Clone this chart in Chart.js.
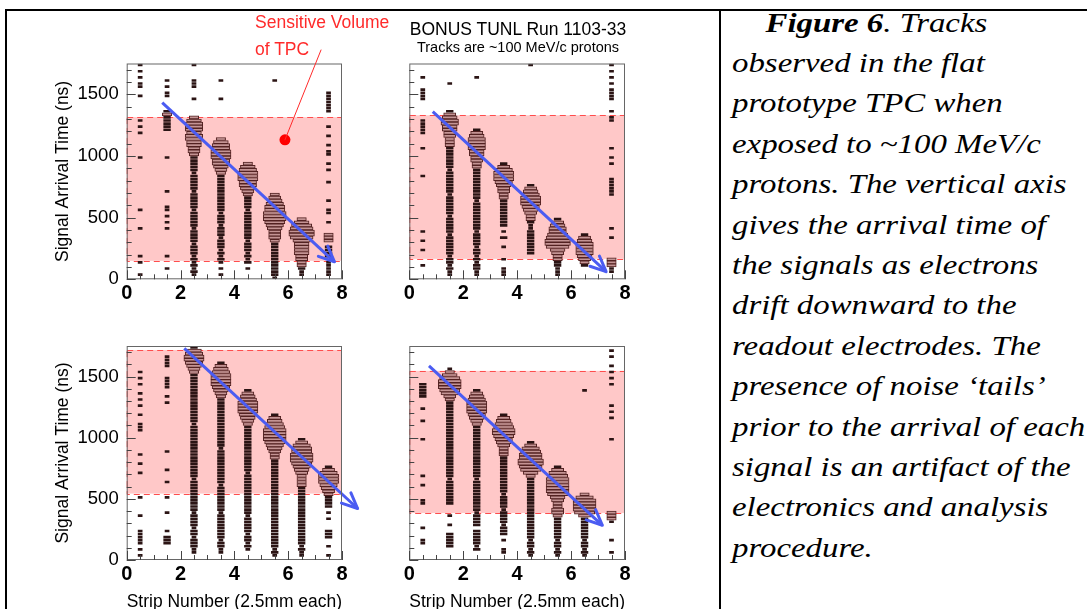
<!DOCTYPE html>
<html>
<head>
<meta charset="utf-8">
<script src="https://cdn.jsdelivr.net/npm/chart.js@4.4.1/dist/chart.umd.min.js"></script>
<style>
  body { margin: 0; width: 1087px; height: 609px; overflow: hidden; position: relative; background: #fff;
         font-family: "Liberation Sans", Arial, sans-serif; }
  canvas { position: absolute; }
  .rule { position: absolute; background: #000; }
  .note { position: absolute; white-space: nowrap; line-height: 1; }
  #caption { position: absolute; left: 732px; top: 2.6px; font-family: "Liberation Serif", "Times New Roman", serif;
             font-style: italic; font-size: 26.5px; line-height: 40.4px;
             color: #000; white-space: nowrap; transform: scaleX(1.24); transform-origin: 0 0; }
</style>
</head>
<body>
<div class="rule" style="left:5px;top:9px;width:1082px;height:2px"></div>
<div class="rule" style="left:5px;top:9px;width:2px;height:600px"></div>
<div class="rule" style="left:719px;top:9px;width:2px;height:600px"></div>

<canvas id="panelA" width="360" height="305" style="left:0;top:0"></canvas>
<canvas id="panelB" width="360" height="305" style="left:360px;top:0"></canvas>
<canvas id="panelC" width="360" height="312" style="left:0;top:300px"></canvas>
<canvas id="panelD" width="360" height="312" style="left:360px;top:300px"></canvas>

<div class="note" style="left:255px;top:14px;color:#ff2a2a;font-size:17.5px">Sensitive Volume</div>
<div class="note" style="left:255px;top:41px;color:#ff2a2a;font-size:17.5px">of TPC</div>
<div class="note" style="left:409px;top:21px;width:218px;text-align:center;font-size:17.5px">BONUS TUNL Run 1103-33</div>
<div class="note" style="left:409px;top:40px;width:218px;text-align:center;font-size:14.5px">Tracks are ~100 MeV/c protons</div>

<div id="caption">
  <div style="padding-left:27px"><b>Figure 6</b>. Tracks</div>
  <div>observed in the flat</div>
  <div>prototype TPC when</div>
  <div>exposed to ~100 MeV/c</div>
  <div>protons. The vertical axis</div>
  <div>gives the arrival time of</div>
  <div>the signals as electrons</div>
  <div>drift downward to the</div>
  <div>readout electrodes. The</div>
  <div>presence of noise ‘tails’</div>
  <div>prior to the arrival of each</div>
  <div>signal is an artifact of the</div>
  <div>electronics and analysis</div>
  <div>procedure.</div>
</div>

<script>
// strip centres, time binning
const strips = [0.5, 1.5, 2.5, 3.5, 4.5, 5.5, 6.5, 7.5];
const binNs = 25;
const timeMax = 1750;
const xTickLabels = [0, 2, 4, 6, 8];
const yTickLabels = [0, 500, 1000, 1500];

// one string per strip, top bin (1725-1750 ns) first, one digit per 25 ns bin = box width code
const panelACols = [
  "1010101100 1000000010 1010000000 1000000000 0000000100 0001000000 0010100010",
  "0000010101 1000023222 2200000000 1000000000 0100001101 0101000000 0010001000",
  "1000011100 0100000356 6656655443 2222212222 2122222122 2221222212 2212121210",
  "0000010000 0100000000 0000356677 7665432222 2222222212 2212221222 1212101010",
  "0000000000 0000000000 0000000000 0035677766 5432222122 2222222122 2121201000",
  "0000010000 0000000000 0000000000 0000000000 0034567788 8765444322 2222222221",
  "0000000000 0000000000 0000000000 0000000000 0000000000 3578998655 5544332110",
  "0000000001 1111110000 1001001011 0010100010 0000100110 0100033302 2220111110"
];
const panelBCols = [
  "0000100011 1100000011 1110000100 0000001000 0000000000 0000100100 1000010000",
  "0000001000 0000024566 5544333222 2222122222 2212222221 2222212222 2212212110",
  "0000100000 0000000000 0245666655 4433222222 2222122222 2222122221 2212122110",
  "0000000000 0000000000 0000000000 0024677765 4433222222 2220102001 0001001110",
  "1000000000 0000000000 0000000000 0000000002 4567776543 3211222222 2200000000",
  "0000000000 0000000000 0000000000 0000000000 0000000000 2456678998 5433221110",
  "0000000000 0000000000 0000000000 0000000000 0000000000 0000024566 6654320000",
  "1010101011 1100010110 0000000100 1010000111 1110000000 0001001000 0003331100"
];
const panelCCols = [
  "0000000010 1010010101 0010011100 0000010010 0100000001 0000010000 1111101010",
  "0001111000 1111001010 0000000000 0000100000 1000100001 0000100000 1022200000",
  "2567765432 2222222222 2222212222 2222222222 2221222222 2222122221 2212221100",
  "0000024567 7776543222 2222222222 2221222222 2222212222 2222122222 2221221100",
  "0000000000 0000245677 7765432222 2222222222 2122222222 2222212222 2122121000",
  "0000000000 0000000000 0024567888 8765433222 2222222222 2222222222 2222221210",
  "0000000000 0000000000 0000000000 2467788876 5433332222 2222222222 2222212110",
  "0000000000 0000000000 0000000000 0000000002 4677765432 2220101000 2220010010"
];
const panelDCols = [
  "0000000000 0022222000 1000100000 1000000000 0010010000 1100000001 0001100000",
  "0000000135 7888764322 2222222222 2222222222 2221222222 2200010010 0222220000",
  "0000000000 0000245677 7765432222 2222222222 2221222222 2222122220 2222212000",
  "0000000000 0000000000 0024567887 6543332222 2222222212 2221222212 2201001100",
  "0000000000 0000000000 0000000000 0246788998 7532222222 2222222222 2221221210",
  "0000000000 0000000000 0000000000 0000000002 4678888875 4334432222 2221221210",
  "0000000000 0000100000 0000000000 0000000000 0000000036 8888742222 2221221210",
  "0101001010 1010000001 0101000000 1000000000 0000000000 0000333100 0001000100"
];

// sensitive volume (ns), track arrows (strip, ns)
const panelABand = [150, 1315];
const panelBBand = [166, 1330];
const panelCBand = [543, 1717];
const panelDBand = [384, 1547];
const panelATrackX = [1.32, 7.72], panelATrackY = [1432, 142];
const panelBTrackX = [0.87, 7.30], panelBTrackY = [1360, 62];
const panelCTrackX = [2.14, 8.58], panelCTrackY = [1730, 421];
const panelDTrackX = [0.73, 7.16], panelDTrackY = [1587, 284];
const markerX = [5.88], markerY = [1131];

const sans = '"Liberation Sans", Arial, sans-serif';

// keep: function deciding which codes belong to this dataset
function boxesFrom(cols, keep) {
    const out = [];
    cols.forEach((col, k) => {
        const codes = col.replace(/ /g, '');
        for (let i = 0; i < codes.length; i++) {
            const d = +codes[i];
            if (!d || !keep(d)) continue;
            const w = 0.05 + 0.1 * d;
            out.push({ x: [strips[k] - w / 2, strips[k] + w / 2], y: timeMax - (i + 0.5) * binNs });
        }
    });
    return out;
}

const decor = {
    id: 'decor',
    beforeDatasetsDraw(chart, args, opts) {
        const { ctx, chartArea: a, scales: { y } } = chart;
        const top = y.getPixelForValue(opts.band[1]);
        const bot = y.getPixelForValue(opts.band[0]);
        ctx.save();
        ctx.fillStyle = '#ffc8c8';
        ctx.fillRect(a.left, top, a.right - a.left, bot - top);
        ctx.setLineDash([6, 4]);
        ctx.strokeStyle = '#ff4d4d';
        ctx.lineWidth = 1;
        ctx.strokeRect(a.left + 0.5, Math.round(top) + 0.5, a.right - a.left - 1, Math.round(bot - top));
        ctx.restore();
    },
    afterDatasetsDraw(chart, args, opts) {
        const { ctx, chartArea: a, scales: { x, y } } = chart;
        const sets = chart.data.datasets;
        ctx.save();
        // frame
        ctx.strokeStyle = '#666';
        ctx.lineWidth = 1;
        ctx.strokeRect(a.left + 0.5, a.top + 0.5, a.right - a.left - 1, a.bottom - a.top - 1);
        // inside ticks
        ctx.strokeStyle = '#444';
        ctx.beginPath();
        for (let v = 0; v <= timeMax; v += 100) {
            const py = Math.round(y.getPixelForValue(v)) + 0.5;
            const len = v % 500 === 0 ? 9 : 5;
            ctx.moveTo(a.left, py);
            ctx.lineTo(a.left + len, py);
        }
        for (let v = 0; v <= 8; v += 0.5) {
            const px = Math.round(x.getPixelForValue(v)) + 0.5;
            const len = v % 2 === 0 ? 9 : 5;
            ctx.moveTo(px, a.bottom);
            ctx.lineTo(px, a.bottom - len);
        }
        ctx.stroke();
        // arrow head on the track
        const pts = chart.getDatasetMeta(sets.findIndex(d => d.role === 'track')).data;
        const p1 = pts[pts.length - 2], p2 = pts[pts.length - 1];
        const ang = Math.atan2(p2.y - p1.y, p2.x - p1.x);
        ctx.strokeStyle = '#4b5cf2';
        ctx.lineWidth = 3;
        ctx.lineCap = 'round';
        ctx.beginPath();
        [-1, 1].forEach(s => {
            ctx.moveTo(p2.x, p2.y);
            ctx.lineTo(p2.x - 17 * Math.cos(ang + s * 0.42), p2.y - 17 * Math.sin(ang + s * 0.42));
        });
        ctx.stroke();
        // leader from the marker to the label
        if (opts.leaderTo) {
            const dot = chart.getDatasetMeta(sets.findIndex(d => d.role === 'marker')).data[0];
            ctx.strokeStyle = '#ff2a2a';
            ctx.lineWidth = 1;
            ctx.beginPath();
            ctx.moveTo(dot.x, dot.y);
            ctx.lineTo(opts.leaderTo[0], opts.leaderTo[1]);
            ctx.stroke();
        }
        ctx.restore();
    }
};

function makePanel(id, cols, band, trackX, trackY, cfg) {
    const datasets = [
        {   // signal boxes
            type: 'bar', indexAxis: 'y', data: boxesFrom(cols, d => d > 2),
            backgroundColor: '#c49494', borderColor: '#532222', borderWidth: 1,
            borderSkipped: false, barThickness: 3, grouped: false, order: 3
        },
        {   // small noise / tail boxes
            type: 'bar', indexAxis: 'y', data: boxesFrom(cols, d => d <= 2),
            backgroundColor: '#2b1414', borderColor: '#2b1414', borderWidth: 0,
            borderSkipped: false, barThickness: 2, grouped: false, order: 4
        },
        {
            role: 'track', type: 'line', indexAxis: 'x',
            data: trackX.map((v, i) => ({ x: v, y: trackY[i] })),
            borderColor: '#4b5cf2', borderWidth: 3, pointRadius: 0, clip: false, order: 1
        }
    ];
    if (cfg.marker) {
        datasets.push({
            role: 'marker', type: 'scatter', data: markerX.map((v, i) => ({ x: v, y: markerY[i] })),
            pointRadius: 5.5, backgroundColor: '#ff0000', borderWidth: 0, order: 0
        });
    }
    new Chart(document.getElementById(id), {
        type: 'bar',
        data: { datasets },
        options: {
            responsive: false,
            animation: false,
            events: [],
            layout: { padding: { left: 0, top: cfg.top, right: cfg.right, bottom: 0 } },
            plugins: {
                legend: { display: false },
                tooltip: { enabled: false },
                decor: { band, leaderTo: cfg.leaderTo }
            },
            scales: {
                x: {
                    type: 'linear', min: 0, max: 8, offset: false,
                    grid: { display: false, drawTicks: false }, border: { display: false },
                    afterBuildTicks: s => { s.ticks = xTickLabels.map(v => ({ value: v })); },
                    ticks: { padding: 2, color: '#000', maxRotation: 0, autoSkip: false,
                             callback: v => String(v),
                             font: { family: sans, size: 20, weight: 'bold' } },
                    title: { display: cfg.xTitle, text: 'Strip Number (2.5mm each)', color: '#000',
                             padding: { top: 0, bottom: 1.5 },
                             font: { family: sans, size: 17.5, lineHeight: 1 } },
                    afterFit: s => { s.height = cfg.xHeight; }
                },
                y: {
                    type: 'linear', min: 0, max: timeMax, offset: false,
                    grid: { display: false, drawTicks: false }, border: { display: false },
                    afterBuildTicks: s => { s.ticks = yTickLabels.map(v => ({ value: v })); },
                    ticks: { display: cfg.yLabels, padding: 8, color: '#000',
                             callback: v => String(v),
                             font: { family: sans, size: 18.5 } },
                    title: { display: cfg.yLabels, text: 'Signal Arrival Time (ns)', color: '#000',
                             padding: { top: 54, bottom: 0 },
                             font: { family: sans, size: 17.5, lineHeight: 1 } },
                    afterFit: s => { s.width = cfg.yWidth; }
                }
            }
        },
        plugins: [decor]
    });
}

makePanel('panelA', panelACols, panelABand, panelATrackX, panelATrackY,
    { top: 63.5, right: 18, xHeight: 25.7, yWidth: 126.7, yLabels: true, xTitle: false, marker: true, leaderTo: [321, 50] });
makePanel('panelB', panelBCols, panelBBand, panelBTrackX, panelBTrackY,
    { top: 63.5, right: 95, xHeight: 25.7, yWidth: 49.3, yLabels: false, xTitle: false });
makePanel('panelC', panelCCols, panelCBand, panelCTrackX, panelCTrackY,
    { top: 46, right: 18, xHeight: 52, yWidth: 126.7, yLabels: true, xTitle: true });
makePanel('panelD', panelDCols, panelDBand, panelDTrackX, panelDTrackY,
    { top: 46, right: 95, xHeight: 52, yWidth: 49.3, yLabels: false, xTitle: true });
</script>
</body>
</html>
